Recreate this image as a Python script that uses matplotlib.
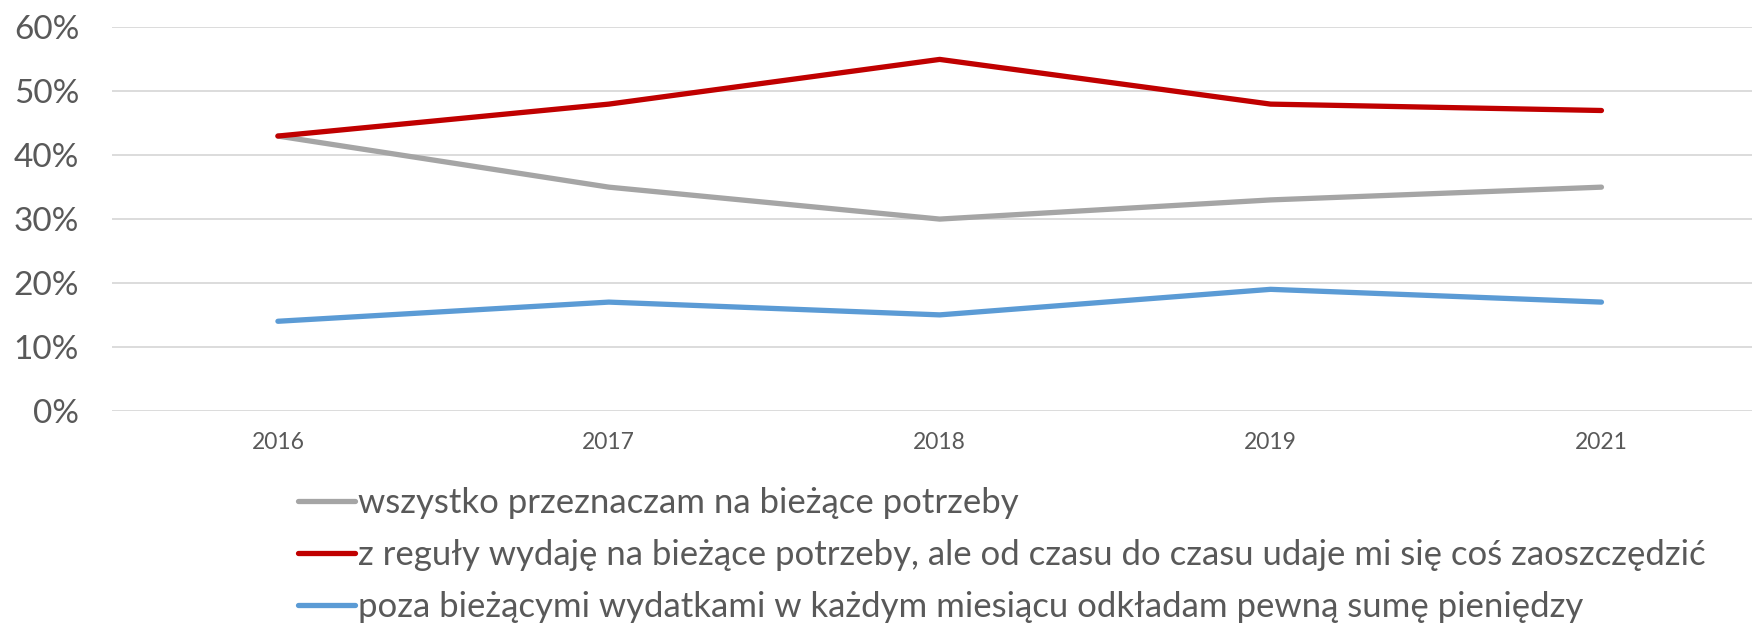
import matplotlib.pyplot as plt
from matplotlib.ticker import PercentFormatter

plt.rcParams['font.family'] = ['Lato', 'DejaVu Sans']

years = ['2016', '2017', '2018', '2019', '2021']
wszystko = [43, 35, 30, 33, 35]
z_reguly = [43, 48, 55, 48, 47]
poza = [14, 17, 15, 19, 17]

labels = ['wszystko przeznaczam na bieżące potrzeby',
          'z reguły wydaję na bieżące potrzeby, ale od czasu do czasu udaje mi się coś zaoszczędzić',
          'poza bieżącymi wydatkami w każdym miesiącu odkładam pewną sumę pieniędzy']
colors = ['#A5A5A5', '#C00000', '#5B9BD5']

fig = plt.figure(figsize=(17.52, 6.23), dpi=100)
ax = fig.add_axes([0.0642, 0.3408, 0.9443, 0.6151])

x = range(len(years))
for vals, lab, col in zip([wszystko, z_reguly, poza], labels, colors):
    ax.plot(x, vals, color=col, lw=3.8, solid_capstyle='round', label=lab)

ax.set_xlim(-0.5, len(years) - 0.5)
ax.set_ylim(0, 60)
ax.set_yticks(range(0, 61, 10))
ax.yaxis.set_major_formatter(PercentFormatter(decimals=0))
ax.set_xticks(list(x))
ax.set_xticklabels(years)
ax.grid(axis='y', color='#D9D9D9', lw=1.3)
ax.set_axisbelow(True)
for s in ax.spines.values():
    s.set_visible(False)
ax.tick_params(axis='y', length=0, labelsize=24, labelcolor='#595959', pad=24)
ax.tick_params(axis='x', length=0, labelsize=16.5, labelcolor='#595959', pad=15)

fig.legend(loc='upper left', bbox_to_anchor=(0.170, 0.218), frameon=False,
           fontsize=25, labelcolor='#595959', handlelength=1.64,
           handletextpad=0.09, labelspacing=0.57, borderpad=0, borderaxespad=0)

fig.savefig('out.png', dpi=100)
